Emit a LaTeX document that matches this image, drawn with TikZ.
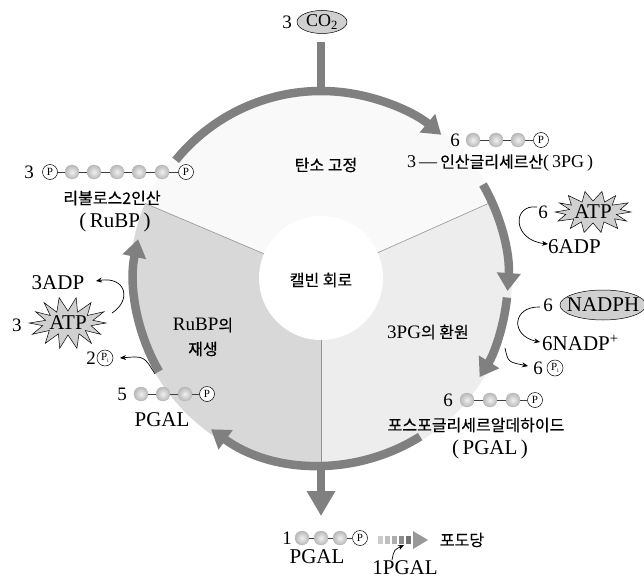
\documentclass[tikz,border=0pt]{standalone}
\usepackage{fontspec}
\setmainfont{Liberation Serif}
\newfontfamily\kr[FakeBold=0.5]{Noto Sans CJK KR}
\usetikzlibrary{arrows.meta,calc}
\definecolor{ringgray}{HTML}{808080}
\definecolor{secA}{HTML}{F9F9F9}
\definecolor{secB}{HTML}{EDEDED}
\definecolor{secC}{HTML}{D8D8D8}
\definecolor{burstgray}{HTML}{D0D0D0}
\tikzset{
  ring/.style={draw=ringgray,line width=8.5pt},
  ringhead/.style={-{Triangle[width=23pt,length=18pt]}},
  divline/.style={draw=gray!85,line width=0.6pt},
  ball/.style={circle,inner sep=0pt,minimum size=14pt,inner color=gray!12,outer color=gray!55,draw=gray!60,line width=0.3pt},
  pc/.style={circle,inner sep=0pt,minimum size=15pt,draw=black,line width=0.5pt,fill=white,font=\fontsize{11}{11}\selectfont},
  chain/.style={draw=black!75,line width=0.6pt},
  lat/.style={inner sep=1pt,font=\fontsize{21}{23}\selectfont},
  num/.style={inner sep=1pt,font=\fontsize{19}{21}\selectfont},
  krt/.style={inner sep=1pt,font=\kr\fontsize{16}{18}\selectfont},
  thinarrow/.style={draw=black,line width=0.7pt,-{Stealth[length=6pt,width=5pt]}},
  burst/.style={draw=black,line width=0.5pt,fill=burstgray},
}
\begin{document}
\begin{tikzpicture}[x=1pt,y=1pt]
\path[use as bounding box] (0,0) rectangle (644,-583);
\coordinate (C) at (321,-278);
% sectors
\fill[secA] (C) -- ++(24:191) arc[start angle=24,end angle=157,radius=191] -- cycle;
\fill[secC] (C) -- ++(157:191) arc[start angle=157,end angle=270,radius=191] -- cycle;
\fill[secB] (C) -- ++(-90:191) arc[start angle=-90,end angle=24,radius=191] -- cycle;
\draw[divline] ($(C)+(24:60)$) -- ($(C)+(24:189)$);
\draw[divline] ($(C)+(157:60)$) -- ($(C)+(157:191)$);
\draw[divline] ($(C)+(-90:60)$) -- ($(C)+(-90:187)$);
\fill[white] (C) circle[radius=62];
% ring arrows
\draw[ring,ringhead] ($(C)+(141:187)$) arc[start angle=141,end angle=50,radius=187];
\draw[ring,ringhead] ($(C)+(30:187)$) arc[start angle=30,end angle=-4,radius=187];
\draw[ring,ringhead] ($(C)+(-6:187)$) arc[start angle=-6,end angle=-32,radius=187];
\draw[ring,ringhead] ($(C)+(-58:187)$) arc[start angle=-58,end angle=-126,radius=187];
\draw[ring,ringhead] ($(C)+(210:187)$) arc[start angle=210,end angle=168,radius=187];
% CO2
\coordinate (co2c) at (322,-22);
\fill[burstgray] (co2c) ellipse[x radius=25,y radius=11.5];
\draw[line width=0.5pt] (co2c) ellipse[x radius=25,y radius=11.5];
\node[inner sep=0pt,font=\fontsize{18}{20}\selectfont] (co2) at (co2c) {CO\textsubscript{2}};
\node[num] (co2n) at (287,-22) {3};
\coordinate (co2top) at (321,-42);
\coordinate (ringtop) at (321,-95);
\draw[ring] (co2top) -- (ringtop);
% bottom arrow
\coordinate (ringbot) at (321,-462);
\coordinate (bottip) at (321,-516);
\draw[ring,-{Triangle[width=27pt,length=25pt]}] (ringbot) -- (bottip);
% sector labels
\node[krt] (fix) at (326,-165) {탄소 고정};
\node[krt] (calvin) at (321,-280) {캘빈 회로};
\node[lat,font=\fontsize{19}{21}\selectfont] (red) at (428,-332) {3PG{\kr\fontsize{16}{18}\selectfont 의 환원}};
\node[lat,font=\fontsize{19}{21}\selectfont] (regen1) at (203,-325) {RuBP{\kr\fontsize{16}{18}\selectfont 의}};
\node[krt] (regen2) at (203,-349) {재생};
% RuBP chain
\node[num] (n3a) at (29,-172) {3};
\node[pc] (ra0) at (50,-172) {P};
\node[ball] (ra1) at (72,-172) {};
\node[ball] (ra2) at (94,-172) {};
\node[ball] (ra3) at (117,-172) {};
\node[ball] (ra4) at (139,-172) {};
\node[ball] (ra5) at (162,-172) {};
\node[pc] (ra6) at (186,-172) {P};
\draw[chain] (ra0) -- (ra1) -- (ra2) -- (ra3) -- (ra4) -- (ra5) -- (ra6);
\node[krt] (rubpk) at (112,-198) {리불로스2인산};
\node[lat] (rubp) at (115,-222) {(\,RuBP\,)};
% 3PG chain
\node[num] (n6a) at (455,-140) {6};
\node[ball] (pa1) at (473,-140) {};
\node[ball] (pa2) at (496,-140) {};
\node[ball] (pa3) at (518,-140) {};
\node[pc] (pa4) at (541,-140) {P};
\draw[chain] (pa1) -- (pa2) -- (pa3) -- (pa4);
\node[lat,font=\fontsize{18}{20}\selectfont,anchor=west] (pgk) at (406,-163) {3\,—\,{\kr\fontsize{16}{18}\selectfont 인산글리세르산}(\,3PG\,)};
% ATP right
\coordinate (S1) at (593,-212);
\draw[burst] ($(S1)+(0:38 and 21)$) \foreach \k in {1,...,27} { -- ($(S1)+({\k*360/28}:{32+6*cos(\k*180)+2*sin(\k*77)} and {16+5*cos(\k*180)})$) } -- cycle;
\node[lat] (atpA) at (S1) {ATP};
\node[num] (n6b) at (543,-212) {6};
\node[lat,anchor=west] (adpA) at (547,-247) {6ADP};
\coordinate (arA0) at (537,-207);
\coordinate (arA1) at (548,-244);
\draw[thinarrow] (arA0) .. controls (512,-204) and (512,-240) .. (arA1);
% NADPH
\coordinate (S2) at (603,-305);
\fill[burstgray] (S2) ellipse[x radius=43,y radius=15];
\draw[line width=0.5pt] (S2) ellipse[x radius=43,y radius=15];
\node[lat,inner sep=0pt] (nadph) at (S2) {NADPH};
\node[num] (n6c) at (548,-305) {6};
\node[lat,anchor=west] (nadp) at (541,-343) {6NADP\textsuperscript{+}};
\coordinate (arB0) at (540,-307);
\coordinate (arB1) at (540,-342);
\draw[thinarrow] (arB0) .. controls (512,-306) and (510,-336) .. (arB1);
\node[num] (n6d) at (538,-368) {6};
\node[pc,minimum size=16pt] (pi1) at (555,-368) {P\raisebox{-2pt}{\fontsize{6}{6}\selectfont i}};
\coordinate (arC0) at (505,-348);
\coordinate (arC1) at (528,-366);
\draw[thinarrow] (arC0) .. controls (508,-362) .. (arC1);
% PGAL chain right
\node[num] (n6e) at (448,-400) {6};
\node[ball] (ga1) at (467,-400) {};
\node[ball] (ga2) at (490,-400) {};
\node[ball] (ga3) at (513,-400) {};
\node[pc] (ga4) at (535,-400) {P};
\draw[chain] (ga1) -- (ga2) -- (ga3) -- (ga4);
\node[krt] (pgalk) at (476,-425) {포스포글리세르알데하이드};
\node[lat] (pgalr) at (490,-449) {(\,PGAL\,)};
% left ATP / ADP
\coordinate (S3) at (68,-323);
\draw[burst] ($(S3)+(0:38 and 26)$) \foreach \k in {1,...,27} { -- ($(S3)+({\k*360/28}:{31+7*cos(\k*180)+2*sin(\k*53)} and {19+7*cos(\k*180)})$) } -- cycle;
\node[lat] (atpB) at (S3) {ATP};
\node[num] (n3b) at (17,-325) {3};
\node[lat] (adpB) at (58,-283) {3ADP};
\coordinate (arD0) at (112,-313);
\coordinate (arD1) at (96,-281);
\draw[thinarrow] (arD0) .. controls (132,-300) and (126,-276) .. (arD1);
\node[num] (n2) at (91,-358) {2};
\node[pc,minimum size=16pt] (pi2) at (105,-358) {P\raisebox{-2pt}{\fontsize{6}{6}\selectfont i}};
\coordinate (arE0) at (155,-374);
\coordinate (arE1) at (120,-358);
\draw[thinarrow] (arE0) .. controls (144,-356) .. (arE1);
% PGAL chain left
\node[num] (n5) at (122,-394) {5};
\node[ball] (la1) at (141,-394) {};
\node[ball] (la2) at (163,-394) {};
\node[ball] (la3) at (185,-394) {};
\node[pc] (la4) at (207,-394) {P};
\draw[chain] (la1) -- (la2) -- (la3) -- (la4);
\node[lat] (pgall) at (162,-420) {PGAL};
% bottom PGAL
\node[num] (n1) at (287,-538) {1};
\node[ball] (ba1) at (302,-538) {};
\node[ball] (ba2) at (321,-538) {};
\node[ball] (ba3) at (340,-538) {};
\node[pc] (ba4) at (360,-538) {P};
\draw[chain] (ba1) -- (ba2) -- (ba3) -- (ba4);
\node[lat] (pgalb) at (317,-557) {PGAL};
% glucose arrow
\foreach \i/\c in {0/20,1/25,2/32,3/45,4/55} {
  \fill[black!\c] ({378+\i*7},-536) rectangle ++(5,-8);
}
\fill[black!40] (413,-531) -- (428,-540) -- (413,-549) -- cycle;
\node[krt] (glc) at (462,-540) {포도당};
\node[lat] (pgal1) at (405,-568) {1PGAL};
\coordinate (arF0) at (392,-560);
\coordinate (arF1) at (404,-545);
\draw[thinarrow] (arF0) .. controls (394,-550) .. (arF1);
\end{tikzpicture}
\end{document}
